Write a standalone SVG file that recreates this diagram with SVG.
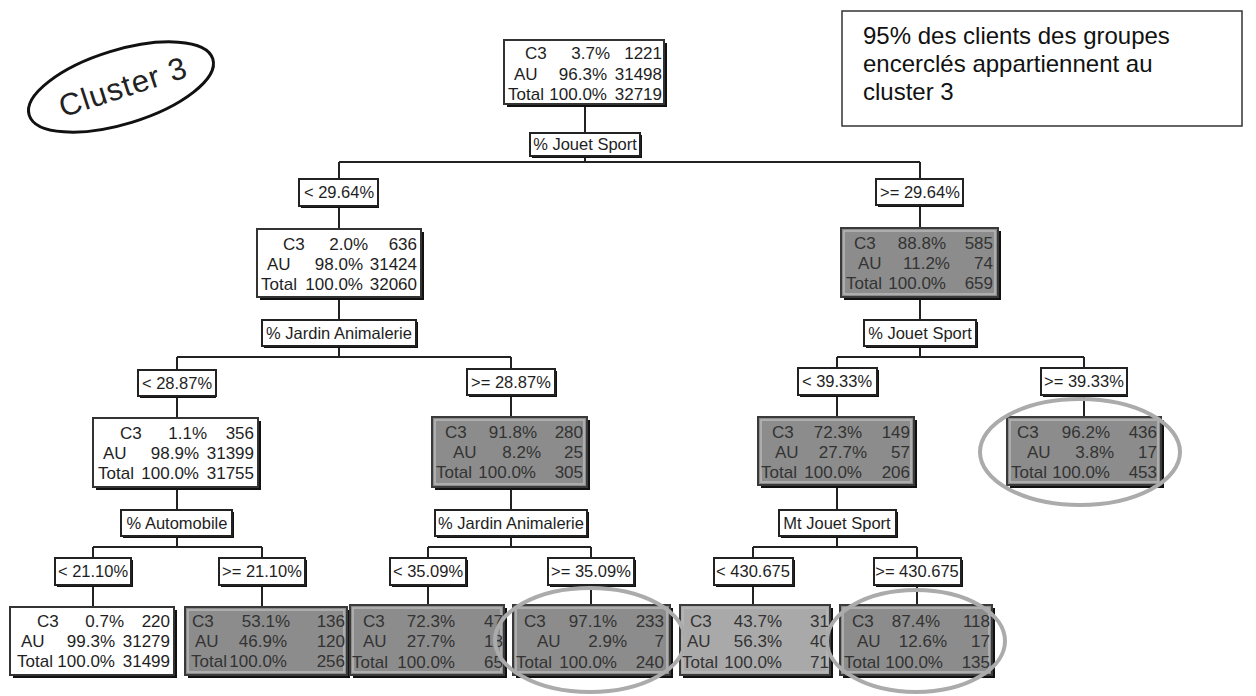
<svg xmlns="http://www.w3.org/2000/svg" width="1256" height="696" viewBox="0 0 1256 696">
<style>
.bg{fill:#fff}
.sh{fill:#111}
.nw{fill:#fff;stroke:#333;stroke-width:2}
.ng{fill:#8c8c8c;stroke:#3a3a3a;stroke-width:2}
.nl{fill:#a9a9a9;stroke:#3a3a3a;stroke-width:2}
.bev{fill:none;stroke:#b8b8b8;stroke-width:1.5}
.lb{fill:#fff;stroke:#222;stroke-width:2}
text{font-family:"Liberation Sans",Arial,sans-serif}
.t{font-size:17px;fill:#1e1e1e}
.tg{font-size:17px;fill:#333}
.e{text-anchor:end}
.m{text-anchor:middle}
.lt{font-size:16.5px;fill:#1e1e1e;text-anchor:middle}
.con{fill:none;stroke:#222;stroke-width:2}
.circ{fill:none;stroke:#ababab;stroke-width:4}
</style>
<rect class="bg" x="0" y="0" width="1256" height="696"/>

<g id="cluster-tag">
<ellipse cx="121" cy="87" rx="96" ry="37" transform="rotate(-17 121 87)" fill="none" stroke="#111" stroke-width="3"/>
<text x="123" y="98" transform="rotate(-18 121 87)" font-family="DejaVu Sans, sans-serif" font-size="31" fill="#222" text-anchor="middle" letter-spacing="1">Cluster 3</text>
</g>

<g id="note">
<rect x="842" y="11" width="400" height="115" fill="#fff" stroke="#333" stroke-width="1.5"/>
<text x="863" y="44" font-size="24" fill="#111">95% des clients des groupes</text>
<text x="863" y="72" font-size="24" fill="#111">encerclés appartiennent au</text>
<text x="863" y="100" font-size="24" fill="#111">cluster 3</text>
</g>

<g id="connectors">
<path class="con" d="M585 104V133M585 156V162M339 162H920M339 162V179M920 162V179M339 206V229M920 205V228"/>
<path class="con" d="M339 297V320M339 346V357M177 357H511M177 357V370M511 357V369M920 297V320M920 346V357M837 357H1084M837 357V368M1084 357V368"/>
<path class="con" d="M177 396V418M511 395V417M837 395V417M1084 395V417M177 487V510M511 487V510M837 485V510"/>
<path class="con" d="M177 536V547M93 547H262M93 547V558M262 547V558M511 536V547M428 547H591M428 547V558M591 547V558M837 536V547M753 547H917M753 547V558M917 547V558"/>
<path class="con" d="M93 585V607M262 585V607M428 585V605M591 585V605M753 585V605M917 585V605"/>
</g>

<g id="n0">
<rect class="sh" x="507" y="43" width="160" height="64"/>
<rect class="nw" x="504" y="40" width="160" height="64"/>
<text class="t" x="525" y="59">C3</text><text class="t e" x="610" y="59">3.7%</text><text class="t e" x="662" y="59">1221</text>
<text class="t" x="514" y="80">AU</text><text class="t e" x="607" y="80">96.3%</text><text class="t e" x="662" y="80">31498</text>
<text class="t" x="508" y="100">Total</text><text class="t e" x="607" y="100">100.0%</text><text class="t e" x="662" y="100">32719</text>
</g>
<g id="l0"><rect class="sh" x="532" y="135" width="110" height="23"/><rect class="lb" x="530" y="133" width="110" height="23"/><text class="lt" x="585" y="150">% Jouet Sport</text></g>

<g id="b1a"><rect class="sh" x="301" y="181" width="78" height="27"/><rect class="lb" x="299" y="179" width="79" height="27"/><text class="lt" x="339" y="198">&lt; 29.64%</text></g>
<g id="b1b"><rect class="sh" x="878" y="181" width="86" height="26"/><rect class="lb" x="876" y="179" width="87" height="26"/><text class="lt" x="920" y="198">&gt;= 29.64%</text></g>

<g id="n1">
<rect class="sh" x="260" y="232" width="164" height="68"/>
<rect class="nw" x="257" y="229" width="164" height="68"/>
<text class="t" x="283" y="250">C3</text><text class="t e" x="368" y="250">2.0%</text><text class="t e" x="417" y="250">636</text>
<text class="t" x="267" y="270">AU</text><text class="t e" x="363" y="270">98.0%</text><text class="t e" x="417" y="270">31424</text>
<text class="t" x="261" y="290">Total</text><text class="t e" x="363" y="290">100.0%</text><text class="t e" x="417" y="290">32060</text>
</g>
<g id="n2">
<rect class="sh" x="844" y="231" width="157" height="69"/>
<rect class="ng" x="841" y="228" width="157" height="69"/>
<rect class="bev" x="844" y="231" width="151" height="63"/>
<text class="tg" x="854" y="249">C3</text><text class="tg e" x="946" y="249">88.8%</text><text class="tg e" x="993" y="249">585</text>
<text class="tg" x="858" y="269">AU</text><text class="tg e" x="950" y="269">11.2%</text><text class="tg e" x="993" y="269">74</text>
<text class="tg" x="846" y="289">Total</text><text class="tg e" x="946" y="289">100.0%</text><text class="tg e" x="993" y="289">659</text>
</g>

<g id="l1"><rect class="sh" x="264" y="322" width="154" height="26"/><rect class="lb" x="262" y="320" width="154" height="26"/><text class="lt" x="339" y="339">% Jardin Animalerie</text></g>
<g id="l2"><rect class="sh" x="866" y="322" width="112" height="26"/><rect class="lb" x="864" y="320" width="112" height="26"/><text class="lt" x="920" y="339">% Jouet Sport</text></g>

<g id="b2a"><rect class="sh" x="140" y="372" width="76" height="26"/><rect class="lb" x="138" y="370" width="78" height="26"/><text class="lt" x="177" y="389">&lt; 28.87%</text></g>
<g id="b2b"><rect class="sh" x="469" y="371" width="88" height="26"/><rect class="lb" x="467" y="369" width="88" height="26"/><text class="lt" x="511" y="388">&gt;= 28.87%</text></g>
<g id="b2c"><rect class="sh" x="800" y="370" width="79" height="27"/><rect class="lb" x="798" y="368" width="79" height="27"/><text class="lt" x="837" y="387">&lt; 39.33%</text></g>
<g id="b2d"><rect class="sh" x="1043" y="370" width="85" height="27"/><rect class="lb" x="1041" y="368" width="86" height="27"/><text class="lt" x="1084" y="387">&gt;= 39.33%</text></g>

<g id="n3">
<rect class="sh" x="96" y="421" width="165" height="69"/>
<rect class="nw" x="93" y="418" width="165" height="69"/>
<text class="t" x="120" y="439">C3</text><text class="t e" x="207" y="439">1.1%</text><text class="t e" x="254" y="439">356</text>
<text class="t" x="103" y="459">AU</text><text class="t e" x="199" y="459">98.9%</text><text class="t e" x="254" y="459">31399</text>
<text class="t" x="98" y="479">Total</text><text class="t e" x="199" y="479">100.0%</text><text class="t e" x="254" y="479">31755</text>
</g>
<g id="n4">
<rect class="sh" x="435" y="420" width="155" height="70"/>
<rect class="ng" x="432" y="417" width="155" height="70"/>
<rect class="bev" x="435" y="420" width="149" height="64"/>
<text class="tg" x="445" y="438">C3</text><text class="tg e" x="537" y="438">91.8%</text><text class="tg e" x="583" y="438">280</text>
<text class="tg" x="453" y="458">AU</text><text class="tg e" x="541" y="458">8.2%</text><text class="tg e" x="583" y="458">25</text>
<text class="tg" x="436" y="478">Total</text><text class="tg e" x="536" y="478">100.0%</text><text class="tg e" x="583" y="478">305</text>
</g>
<g id="n5">
<rect class="sh" x="761" y="420" width="156" height="68"/>
<rect class="ng" x="758" y="417" width="156" height="68"/>
<rect class="bev" x="761" y="420" width="150" height="62"/>
<text class="tg" x="772" y="438">C3</text><text class="tg e" x="862" y="438">72.3%</text><text class="tg e" x="910" y="438">149</text>
<text class="tg" x="775" y="458">AU</text><text class="tg e" x="867" y="458">27.7%</text><text class="tg e" x="910" y="458">57</text>
<text class="tg" x="761" y="478">Total</text><text class="tg e" x="862" y="478">100.0%</text><text class="tg e" x="910" y="478">206</text>
</g>
<g id="n6">
<rect class="sh" x="1010" y="420" width="154" height="68"/>
<rect class="ng" x="1007" y="417" width="154" height="68"/>
<rect class="bev" x="1010" y="420" width="148" height="62"/>
<text class="tg" x="1017" y="438">C3</text><text class="tg e" x="1110" y="438">96.2%</text><text class="tg e" x="1157" y="438">436</text>
<text class="tg" x="1027" y="458">AU</text><text class="tg e" x="1114" y="458">3.8%</text><text class="tg e" x="1157" y="458">17</text>
<text class="tg" x="1011" y="478">Total</text><text class="tg e" x="1110" y="478">100.0%</text><text class="tg e" x="1157" y="478">453</text>
</g>

<g id="l3"><rect class="sh" x="123" y="512" width="111" height="26"/><rect class="lb" x="121" y="510" width="111" height="26"/><text class="lt" x="177" y="529">% Automobile</text></g>
<g id="l4"><rect class="sh" x="437" y="512" width="152" height="26"/><rect class="lb" x="435" y="510" width="152" height="26"/><text class="lt" x="511" y="529">% Jardin Animalerie</text></g>
<g id="l5"><rect class="sh" x="781" y="512" width="117" height="26"/><rect class="lb" x="779" y="510" width="117" height="26"/><text class="lt" x="837" y="529">Mt Jouet Sport</text></g>

<g id="b3a"><rect class="sh" x="57" y="560" width="76" height="27"/><rect class="lb" x="55" y="558" width="76" height="27"/><text class="lt" x="93" y="577">&lt; 21.10%</text></g>
<g id="b3b"><rect class="sh" x="221" y="560" width="86" height="27"/><rect class="lb" x="219" y="558" width="86" height="27"/><text class="lt" x="262" y="577">&gt;= 21.10%</text></g>
<g id="b3c"><rect class="sh" x="392" y="560" width="76" height="27"/><rect class="lb" x="390" y="558" width="76" height="27"/><text class="lt" x="428" y="577">&lt; 35.09%</text></g>
<g id="b3d"><rect class="sh" x="550" y="560" width="86" height="27"/><rect class="lb" x="548" y="558" width="86" height="27"/><text class="lt" x="591" y="577">&gt;= 35.09%</text></g>
<g id="b3e"><rect class="sh" x="716" y="560" width="79" height="27"/><rect class="lb" x="714" y="558" width="79" height="27"/><text class="lt" x="753" y="577">&lt; 430.675</text></g>
<g id="b3f"><rect class="sh" x="876" y="560" width="87" height="27"/><rect class="lb" x="874" y="558" width="87" height="27"/><text class="lt" x="917" y="577">&gt;= 430.675</text></g>

<g id="n7">
<rect class="sh" x="13" y="610" width="164" height="68"/>
<rect class="nw" x="10" y="607" width="164" height="68"/>
<text class="t" x="37" y="627">C3</text><text class="t e" x="124" y="627">0.7%</text><text class="t e" x="170" y="627">220</text>
<text class="t" x="21" y="647">AU</text><text class="t e" x="115" y="647">99.3%</text><text class="t e" x="170" y="647">31279</text>
<text class="t" x="17" y="667">Total</text><text class="t e" x="115" y="667">100.0%</text><text class="t e" x="170" y="667">31499</text>
</g>
<g id="n8">
<rect class="sh" x="188" y="610" width="162" height="68"/>
<rect class="ng" x="185" y="607" width="162" height="68"/>
<rect class="bev" x="188" y="610" width="156" height="62"/>
<text class="tg" x="192" y="627">C3</text><text class="tg e" x="290" y="627">53.1%</text><text class="tg e" x="345" y="627">136</text>
<text class="tg" x="195" y="647">AU</text><text class="tg e" x="287" y="647">46.9%</text><text class="tg e" x="345" y="647">120</text>
<text class="tg" x="191" y="667">Total</text><text class="tg e" x="287" y="667">100.0%</text><text class="tg e" x="345" y="667">256</text>
</g>
<g id="n9">
<rect class="sh" x="353" y="608" width="154" height="70"/>
<rect class="ng" x="350" y="605" width="154" height="70"/>
<rect class="bev" x="353" y="608" width="148" height="64"/>
<text class="tg" x="363" y="627">C3</text><text class="tg e" x="455" y="627">72.3%</text><text class="tg e" x="503" y="627">47</text>
<text class="tg" x="363" y="647">AU</text><text class="tg e" x="455" y="647">27.7%</text><text class="tg e" x="503" y="647">18</text>
<text class="tg" x="352" y="668">Total</text><text class="tg e" x="455" y="668">100.0%</text><text class="tg e" x="503" y="668">65</text>
</g>
<g id="n10">
<rect class="sh" x="516" y="608" width="157" height="70"/>
<rect class="ng" x="513" y="605" width="157" height="70"/>
<rect class="bev" x="516" y="608" width="151" height="64"/>
<text class="tg" x="524" y="627">C3</text><text class="tg e" x="617" y="627">97.1%</text><text class="tg e" x="664" y="627">233</text>
<text class="tg" x="537" y="647">AU</text><text class="tg e" x="627" y="647">2.9%</text><text class="tg e" x="664" y="647">7</text>
<text class="tg" x="516" y="668">Total</text><text class="tg e" x="617" y="668">100.0%</text><text class="tg e" x="664" y="668">240</text>
</g>
<g id="n11">
<rect class="sh" x="683" y="608" width="150" height="70"/>
<rect class="nl" x="680" y="605" width="150" height="70"/>
<rect class="bev" x="683" y="608" width="144" height="64" stroke="#c4c4c4"/>
<text class="tg" x="690" y="627">C3</text><text class="tg e" x="782" y="627">43.7%</text><text class="tg e" x="829" y="627">31</text>
<text class="tg" x="687" y="647">AU</text><text class="tg e" x="782" y="647">56.3%</text><text class="tg e" x="829" y="647">40</text>
<text class="tg" x="682" y="668">Total</text><text class="tg e" x="782" y="668">100.0%</text><text class="tg e" x="829" y="668">71</text>
</g>
<g id="n12">
<rect class="sh" x="843" y="608" width="152" height="70"/>
<rect class="ng" x="840" y="605" width="152" height="70"/>
<rect class="bev" x="843" y="608" width="146" height="64"/>
<text class="tg" x="852" y="627">C3</text><text class="tg e" x="940" y="627">87.4%</text><text class="tg e" x="990" y="627">118</text>
<text class="tg" x="857" y="647">AU</text><text class="tg e" x="947" y="647">12.6%</text><text class="tg e" x="990" y="647">17</text>
<text class="tg" x="844" y="668">Total</text><text class="tg e" x="943" y="668">100.0%</text><text class="tg e" x="990" y="668">135</text>
</g>

<g id="highlights">
<ellipse class="circ" cx="1080" cy="452" rx="100" ry="53"/>
<ellipse class="circ" cx="590" cy="640" rx="95" ry="52"/>
<ellipse class="circ" cx="916" cy="641" rx="89" ry="51"/>
</g>
</svg>
